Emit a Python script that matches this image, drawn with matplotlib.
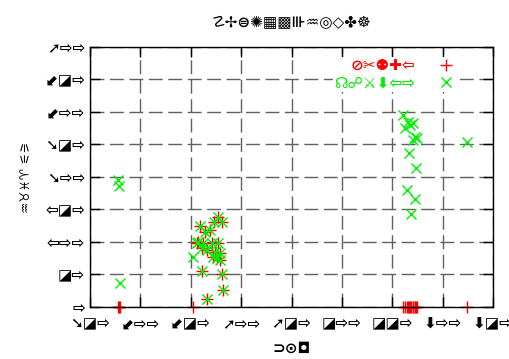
import matplotlib.pyplot as plt

# digit -> glyph table used for all the numeric tick labels
GLYPHS = {'0': '⇨', '1': '⇦', '2': '➘', '3': '⬋', '4': '➚',
          '5': '◪', '6': '⬇', '7': '⬈', '8': '⬊', '9': '⬉'}


def glyph(v):
    return ''.join(GLYPHS[c] for c in str(v))


# point positions (x shared by both series)
x_pts = [377.3, 380.6, 373.3, 359.1, 369.0, 364.1, 357.4, 355.8, 362.4, 370.7,
         377.3, 360.7, 365.7, 374.0, 379.0, 352.5, 372.3, 379.0, 375.7, 361.3,
         381.2, 382.2, 366.4,
         560.8, 565.8, 570.7, 567.5, 562.5, 572.4, 574.7, 570.7, 623.6, 566.8,
         573.4, 564.8, 572.4, 568.2,
         277.8, 278.8, 279.8]
y_cross = [138.5, 130.8, 130.8, 124.2, 118.0, 115.4, 100.0, 97.5, 97.5, 97.5,
           97.5, 89.8, 87.2, 84.6, 82.2, 76.9, 76.9, 71.8, 74.5, 54.9,
           49.8, 25.7, 11.4,
           295.1, 284.6, 282.2, 279.5, 274.5, 261.5, 259.1, 256.5, 253.8, 236.0,
           212.9, 179.5, 165.2, 142.6,
           194.9, 185.7, 36.5]
y_plus = [138.5, 130.8, 130.8, 124.2, 118.0, 115.4, 100.0, 97.5, 97.5, 97.5,
          97.5, 89.8, 87.2, 84.6, 82.2, 0, 76.9, 71.8, 74.5, 54.9,
          49.8, 25.7, 11.4,
          0, 0, 0, 0, 0, 0, 0, 0, 0, 0,
          0, 0, 0, 0,
          0, 0, 0]

x_ticks = [250, 300, 350, 400, 450, 500, 550, 600, 650]
y_ticks = [0, 50, 100, 150, 200, 250, 300, 350, 400]

title_text = '☡✢⊜✺▦▩⊪♒◎◇✤☸'
x_label = '⊃⊙◘'
y_label = '♒♉♓♈ ⚟⚞'
plus_label = '⊘✂⚉✚⇦'
cross_label = '☊☍⚔⬇⇦⇨'

plt.rcParams['font.family'] = ['DejaVu Sans']
fig = plt.figure(figsize=(5.09, 3.59), dpi=100)
ax = fig.add_axes([0.1768, 0.1457, 0.792, 0.7243])

ax.plot(x_pts, y_plus, ls='none', marker='+', ms=9, mew=1,
        color='#ff0000', clip_on=False, label=plus_label, zorder=3)
ax.plot(x_pts, y_cross, ls='none', marker='x', ms=7, mew=1,
        color='#00ee00', clip_on=False, label=cross_label, zorder=4)

ax.set_xlim(250, 650)
ax.set_ylim(0, 400)
ax.set_xticks(x_ticks)
ax.set_yticks(y_ticks)
ax.set_xticklabels([glyph(v) for v in x_ticks], fontsize=11, fontweight='bold')
ax.set_yticklabels([glyph(v) for v in y_ticks], fontsize=11, fontweight='bold')
ax.tick_params(axis='x', pad=7)
ax.tick_params(direction='in', length=7, width=1, top=True, right=True,
               colors='black')

ax.grid(True, color='#606060', lw=1, ls=(0, (10, 4)))
ax.set_axisbelow(True)
for s in ax.spines.values():
    s.set_linewidth(1)
    s.set_color('black')
    s.set_zorder(6)

ax.set_title(title_text, fontsize=11, fontweight='bold', pad=14)
ax.set_xlabel(x_label, fontsize=11, fontweight='bold', labelpad=7)
ax.set_ylabel(y_label, fontsize=9, fontweight='bold', labelpad=8)

leg = ax.legend(loc='upper right', bbox_to_anchor=(0.935, 0.99), markerfirst=False,
                frameon=True, facecolor='white', edgecolor='none', framealpha=1,
                fancybox=False, fontsize=11, handlelength=1.5, handletextpad=1.3,
                labelspacing=0.15, borderpad=0.1, labelcolor='linecolor')
for t in leg.get_texts():
    t.set_fontweight('bold')

fig.savefig('out.png', dpi=100)
